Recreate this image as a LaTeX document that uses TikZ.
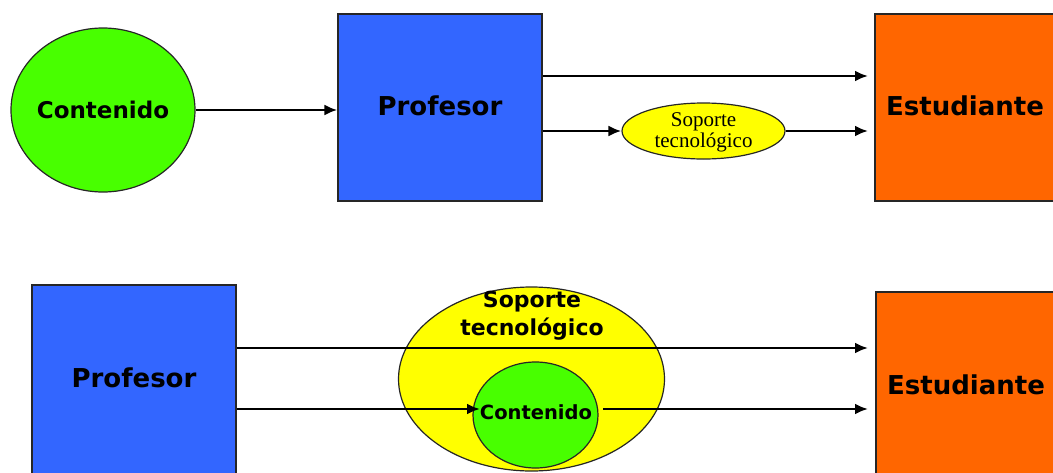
\documentclass[tikz,border=0pt]{standalone}
\usepackage{fontspec}
\setmainfont{Liberation Serif}
\newfontfamily\vfont{DejaVu Sans}
\usetikzlibrary{arrows.meta,shapes.geometric}
\definecolor{cgreen}{RGB}{72,255,0}
\definecolor{cblue}{RGB}{51,102,255}
\definecolor{corange}{RGB}{255,102,0}
\definecolor{cyellow}{RGB}{255,255,0}
\begin{document}
\begin{tikzpicture}[x=1pt,y=-1pt,
  box/.style={draw=black!85,line width=1.2pt,rectangle,inner sep=0pt},
  ell/.style={draw=black!85,line width=1.2pt,ellipse,inner sep=0pt},
  lbl/.style={inner sep=0pt,align=center},
  conn/.style={line width=2.8pt,-{Latex[length=13pt,width=11pt]}}]
\useasboundingbox (0,0) rectangle (1053,472);
\clip (0,0) rectangle (1053,472);
% top row
\node[ell,fill=cgreen,minimum width=184pt,minimum height=164pt] (c1) at (103,110) {};
\node[lbl,font=\vfont\bfseries\fontsize{23}{26}\selectfont] (c1t) at (c1.center) {Contenido};
\node[box,fill=cblue,minimum width=204pt,minimum height=187pt,font=\vfont\bfseries\fontsize{26}{30}\selectfont] (p1) at (440,107.5) {\raisebox{3pt}{Profesor}};
\node[box,fill=corange,minimum width=190pt,minimum height=187pt,font=\vfont\bfseries\fontsize{26}{30}\selectfont] (e1) at (970,107.5) {\hspace*{-10pt}\raisebox{3pt}{Estudiante}};
\node[ell,fill=cyellow,minimum width=163pt,minimum height=56pt] (s1) at (703.5,131) {};
\node[lbl,font=\fontsize{21}{21}\selectfont] (s1t) at (703.5,132) {Soporte\\tecnológico};
\coordinate (t1) at (868,76);
\coordinate (t2) at (868,131);
\draw[conn] (c1.east) -- (p1.west |- c1.east);
\draw[conn] (p1.east |- t1) -- (t1);
\draw[conn] (p1.east |- s1.west) -- (s1.west);
\draw[conn] (s1.east) -- (t2);
% bottom row
\node[box,fill=cblue,minimum width=204pt,minimum height=190pt,font=\vfont\bfseries\fontsize{26}{30}\selectfont] (p2) at (134,380) {\raisebox{4pt}{Profesor}};
\node[box,fill=corange,minimum width=190pt,minimum height=190pt,font=\vfont\bfseries\fontsize{26}{30}\selectfont] (e2) at (971,387) {\hspace*{-10pt}\raisebox{5pt}{Estudiante}};
\node[ell,fill=cyellow,minimum width=266pt,minimum height=184pt] (s2) at (531.5,379) {};
\node[lbl,font=\vfont\bfseries\fontsize{22}{28}\selectfont] (s2t) at (532,316) {Soporte\\tecnológico};
\node[ell,fill=cgreen,minimum width=125pt,minimum height=106pt] (c2) at (535.5,415) {};
\node[lbl,font=\vfont\bfseries\fontsize{19.5}{22}\selectfont] (c2t) at (536,412) {Contenido};
\coordinate (b1) at (868,348);
\coordinate (b2) at (868,409);
\coordinate (c2in) at (480,409);
\coordinate (c2out) at (603,409);
\draw[conn] (p2.east |- b1) -- (b1);
\draw[conn] (p2.east |- c2in) -- (c2in);
\draw[conn] (c2out) -- (b2);
\end{tikzpicture}
\end{document}
